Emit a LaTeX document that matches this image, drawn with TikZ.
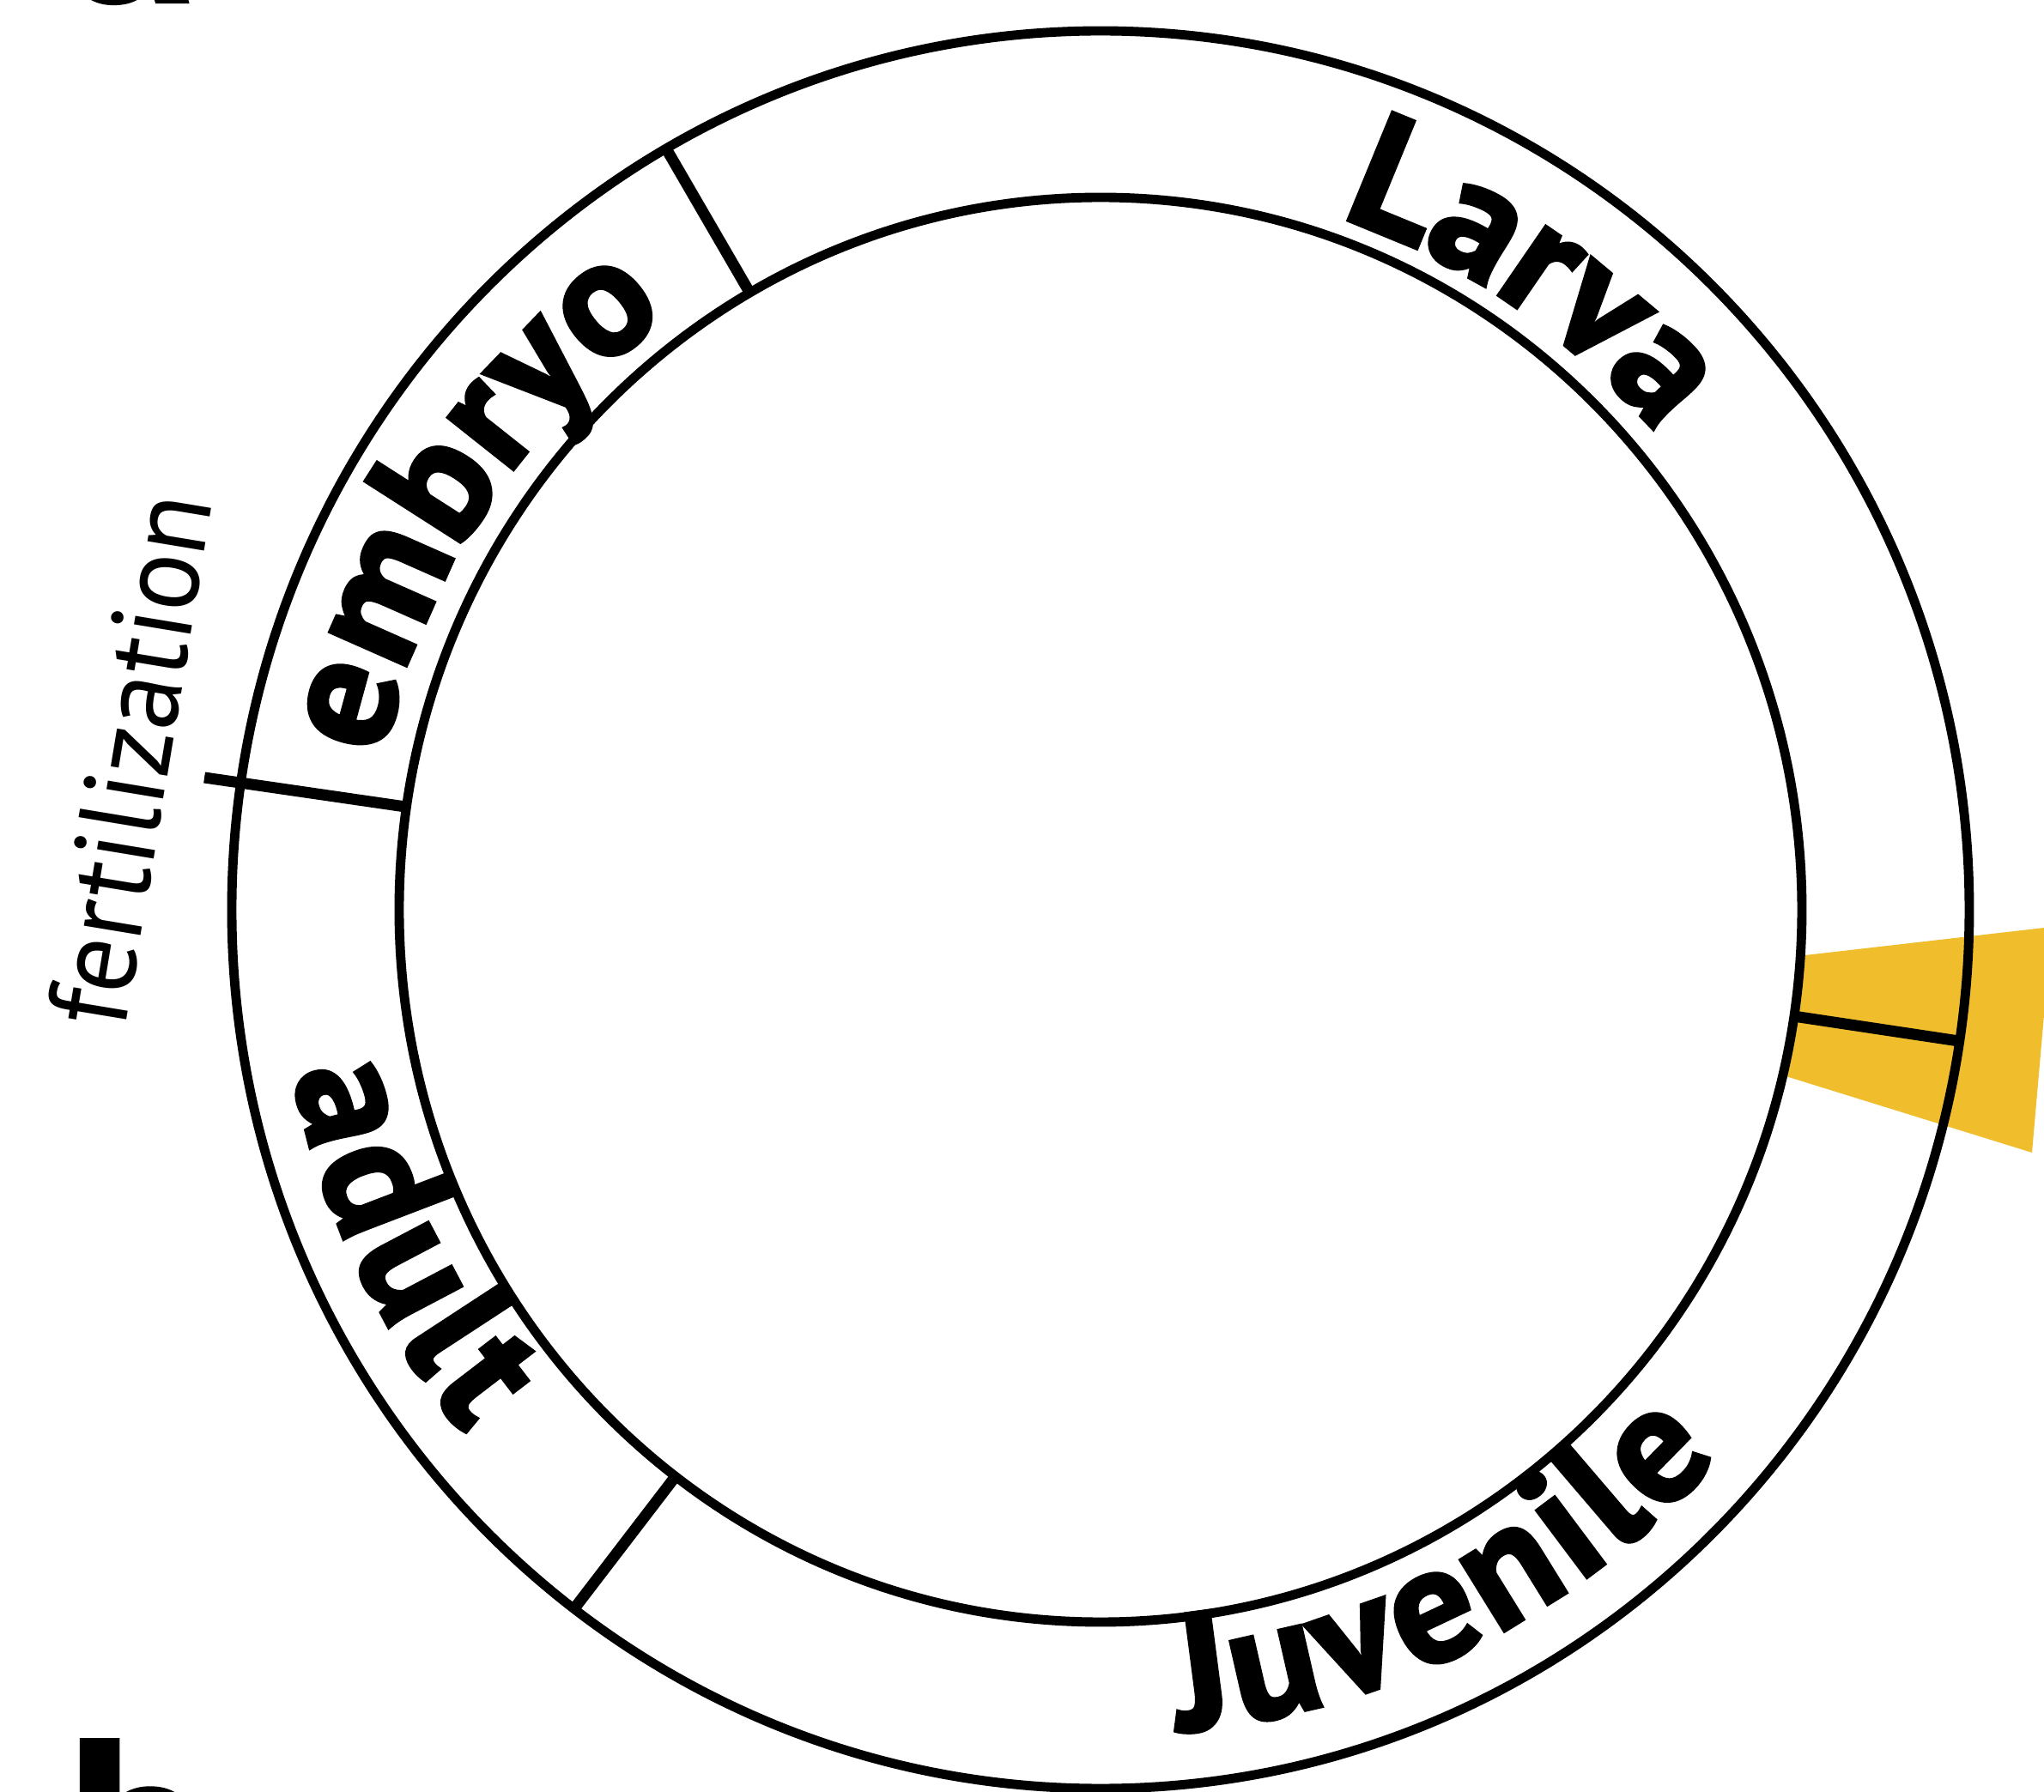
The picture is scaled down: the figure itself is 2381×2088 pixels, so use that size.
\documentclass[tikz,border=0pt]{standalone}
\usepackage{fontspec}
\setmainfont{PT Sans}
\newfontfamily\labfont{PT Sans}[BoldFeatures={FakeBold=2.5}]
\newfontfamily\plainfont{PT Sans}[FakeStretch=0.94]
\usetikzlibrary{decorations.text}
\definecolor{gold}{RGB}{240,190,45}
\newcommand{\lab}{\labfont\bfseries\fontsize{55}{55}\selectfont}
\newcommand{\fertfont}{\plainfont\fontsize{38}{38}\selectfont}
\newcommand{\panelfont}{\labfont\bfseries\fontsize{85}{85}\selectfont}
\begin{document}
\begin{tikzpicture}[x=0.1mm,y=0.1mm,
  ring/.style={line width=3.1pt},
  divider/.style={line width=3.7pt},
  arctext/.style={decorate,decoration={text along path,text={|\lab|#1},text align={fit to path}}}]
\useasboundingbox (-1282,-1028) rectangle (1099,1060);
\clip (-1282,-1028) rectangle (1099,1060);
\fill[white] (-1282,-1028) rectangle (1099,1060);
% yellow wedge
\fill[gold] (473,-93) -- (1108,-20) -- (1085,-283) -- cycle;
\fill[white] (0,0) ellipse [x radius=817, y radius=830];
% rings
\draw[ring] (0,0) ellipse [x radius=1012, y radius=1024];
\draw[ring] (0,0) ellipse [x radius=817, y radius=830];
% divider coordinates
\coordinate (d1i) at (120:817 and 830);
\coordinate (d1o) at (120:1012 and 1024);
\coordinate (d2i) at (171.7:817 and 830);
\coordinate (d2o) at (171.7:1055 and 1067);
\coordinate (d3i) at (232.7:817 and 830);
\coordinate (d3o) at (232.7:1012 and 1024);
\coordinate (d4i) at (-8.6:817 and 830);
\coordinate (d4o) at (-8.6:1012 and 1024);
\draw[divider] (d1i) -- (d1o);
\draw[divider] (d2i) -- (d2o);
\draw[divider] (d3i) -- (d3o);
\draw[divider] (d4i) -- (d4o);
% curved labels
\path[arctext={Larva}] (71:853) arc[start angle=71,end angle=40.5,radius=853];
\path[arctext={embryo}] (168:855) arc[start angle=168,end angle=126,radius=855];
\path[arctext={Juvenile}] (-84.5:962) arc[start angle=-84.5,end angle=-41.5,radius=962];
\path[arctext={adult}] (191.5:960) arc[start angle=191.5,end angle=219.5,radius=960];
% straight label
\node[rotate=80.6,anchor=base,inner sep=0,font=\fertfont] (fert) at (-1085,168) {fertilization};
% panel letters (cut by the frame)
\node[anchor=base west,inner sep=0,font=\panelfont] (pa) at (-1203,1060) {a};
\node[anchor=base west,inner sep=0,font=\panelfont] (pb) at (-1203,-1178) {b};
\end{tikzpicture}
\end{document}
